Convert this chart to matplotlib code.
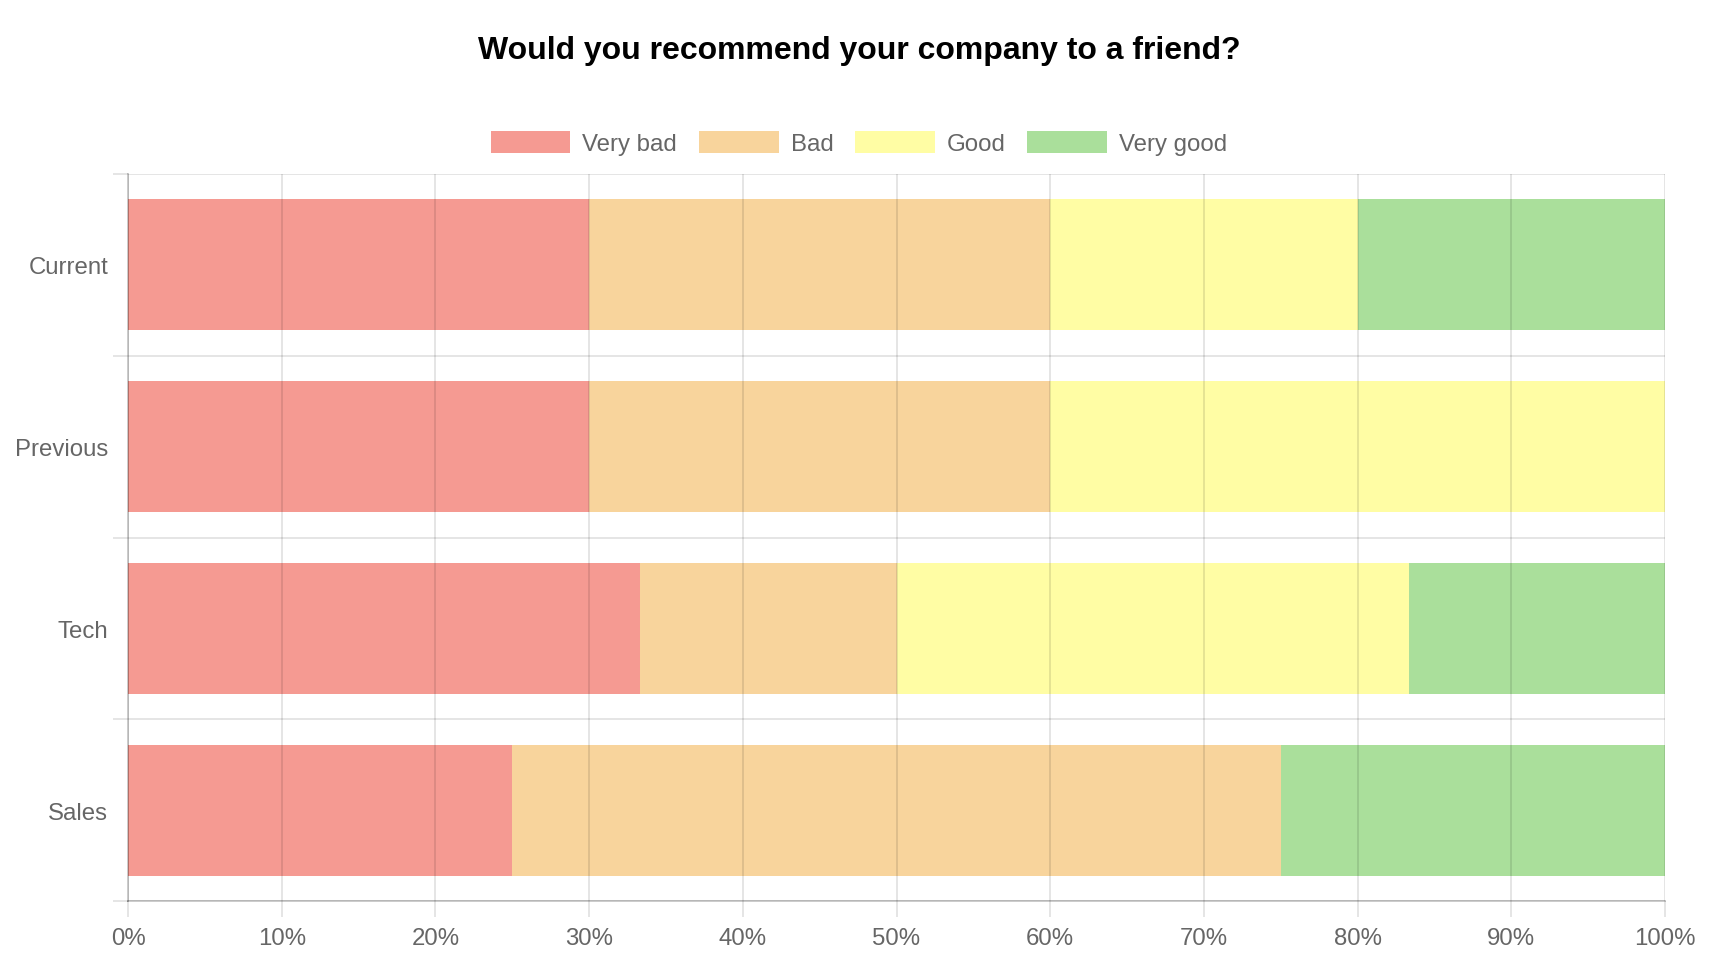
import matplotlib.pyplot as plt
import numpy as np

# data ---------------------------------------------------------------
groups = ["Current", "Previous", "Tech", "Sales"]
series = ["Very bad", "Bad", "Good", "Very good"]
very_bad = [30, 30, 33.33, 25]
bad = [30, 30, 16.67, 50]
good = [20, 40, 33.33, 0]
very_good = [20, 0, 16.67, 25]
colors = ["#F59A92", "#F8D49C", "#FFFDA4", "#AADF9B"]
x_ticks = list(range(0, 101, 10))

plt.rcParams["font.family"] = ["Liberation Sans", "DejaVu Sans"]
px = 72 / 100  # points per pixel at dpi 100
grid_c = (0, 0, 0, 0.1)
text_c = "#666666"

fig = plt.figure(figsize=(17.18, 9.70), dpi=100)
ax = fig.add_axes([128 / 1718, 1 - 902 / 970, (1665 - 128) / 1718, (902 - 175) / 970])

y = np.arange(len(groups))
left = np.zeros(len(groups))
for name, vals, c in zip(series, [very_bad, bad, good, very_good], colors):
    ax.barh(y, vals, left=left, height=0.72, color=c, label=name, zorder=1)
    left += np.array(vals)

ax.set_xlim(0, 100)
ax.set_ylim(len(groups) - 0.5, -0.5)
ax.set_xticks(x_ticks)
ax.set_xticklabels([f"{t}%" for t in x_ticks])
ax.set_yticks(y)
ax.set_yticklabels(groups)
ax.set_yticks(np.arange(-0.5, len(groups), 1), minor=True)

ax.set_axisbelow(False)
ax.grid(axis="x", which="major", color="black", alpha=0.1, linewidth=2 * px)
ax.grid(axis="y", which="minor", color="black", alpha=0.1, linewidth=2 * px)
ax.tick_params(axis="x", length=16 * px, width=2 * px, color=grid_c, labelsize=24 * px,
               labelcolor=text_c, pad=10 * px)
ax.tick_params(axis="y", which="major", length=0, labelsize=24 * px,
               labelcolor=text_c, pad=20 * px)
ax.tick_params(axis="y", which="minor", length=15 * px, width=2 * px, color=grid_c)

for s in ["top", "right"]:
    ax.spines[s].set_visible(False)
for s in ["left", "bottom"]:
    ax.spines[s].set_color("black")
    ax.spines[s].set_alpha(0.2)
    ax.spines[s].set_linewidth(2 * px)

fig.text(0.5, 1 - 51 / 970, "Would you recommend your company to a friend?",
         ha="center", va="center", fontsize=32 * px, fontweight="bold", color="black")

fig.legend(loc="center", bbox_to_anchor=(0.5, 1 - 144 / 970), ncol=4, frameon=False,
           fontsize=24 * px, labelcolor=text_c, handlelength=3.33, handleheight=1.0,
           handletextpad=0.5, columnspacing=0.9, borderpad=0)

fig.savefig("out.png", dpi=100)
